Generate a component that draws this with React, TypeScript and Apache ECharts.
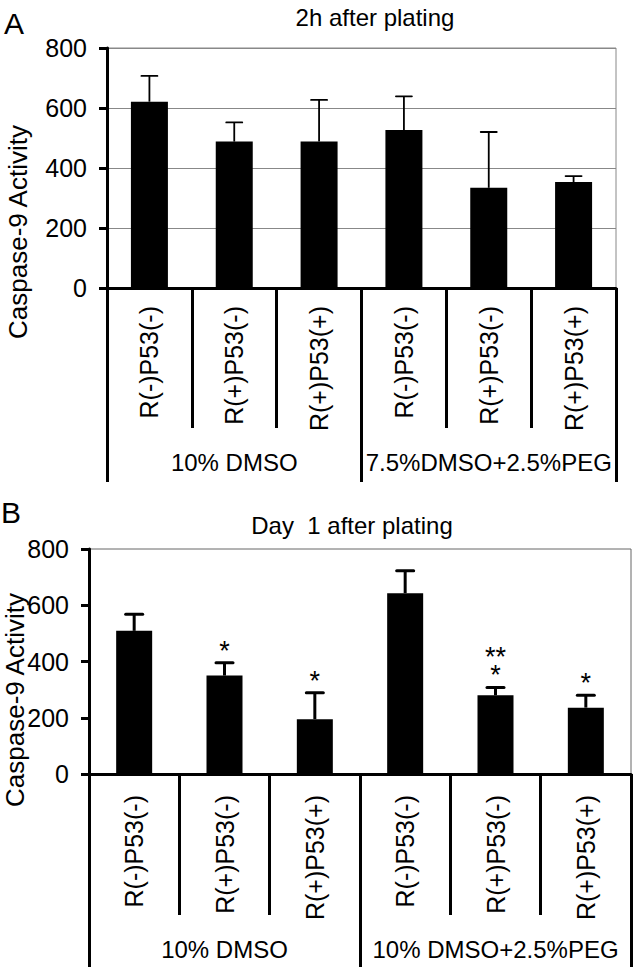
import React, { useEffect, useRef } from 'react';
import * as echarts from 'echarts';

const categories = ['R(-)P53(-)', 'R(+)P53(-)', 'R(+)P53(+)', 'R(-)P53(-)', 'R(+)P53(-)', 'R(+)P53(+)'];
const groupsA = ['10% DMSO', '7.5%DMSO+2.5%PEG'];
const groupsB = ['10% DMSO', '10% DMSO+2.5%PEG'];
const meanA = [621, 488, 488, 527, 334, 353];
const errA = [86, 64, 139, 112, 186, 20];
const meanB = [509, 350, 195, 643, 280, 236];
const errB = [59, 46, 94, 80, 28, 44];
const sigB = ['', '*', '*', '', '**\n*', '*'];
const titleA = '2h after plating';
const titleB = 'Day  1 after plating';
const yName = 'Caspase-9 Activity';
const yMin = 0;
const yMax = 800;
const yStep = 200;

const FONT = '"Liberation Sans", Arial, sans-serif';

function errorSeries(xi: number, yi: number, means: number[], errs: number[], lw: number, cap: number) {
  return {
    type: 'custom',
    xAxisIndex: xi,
    yAxisIndex: yi,
    z: 3,
    data: means.map((m, i) => [i, m, m + errs[i]]),
    renderItem: (params: any, api: any) => {
      const base = api.coord([api.value(0), api.value(1)]);
      const top = api.coord([api.value(0), api.value(2)]);
      return {
        type: 'group',
        children: [
          { type: 'line', shape: { x1: base[0], y1: base[1], x2: top[0], y2: top[1] }, style: { stroke: '#000', lineWidth: lw } },
          { type: 'line', shape: { x1: top[0] - cap / 2, y1: top[1], x2: top[0] + cap / 2, y2: top[1] }, style: { stroke: '#000', lineWidth: lw, lineCap: 'round' } },
        ],
      };
    },
  };
}

export default function App() {
  const ref = useRef<HTMLDivElement>(null);
  useEffect(() => {
    document.body.style.margin = '0';
    if (!ref.current) return;
    const chart = echarts.init(ref.current, null, { renderer: 'svg' });
    const catAxis = (gi: number, tickLen: number, labelMargin: number) => ({
      type: 'category',
      gridIndex: gi,
      data: categories,
      position: 'bottom',
      boundaryGap: true,
      axisLine: { show: true, lineStyle: { color: '#000', width: 3 } },
      axisTick: { show: true, interval: 0, length: tickLen, lineStyle: { color: '#000', width: 3 } },
      axisLabel: { interval: 0, rotate: 90, margin: labelMargin, color: '#000', fontSize: 25, fontFamily: FONT },
    });
    const groupAxis = (gi: number, groups: string[], tickLen: number, labelMargin: number) => ({
      type: 'category',
      gridIndex: gi,
      data: groups,
      position: 'bottom',
      offset: 0,
      boundaryGap: true,
      axisLine: { show: false },
      axisTick: { show: true, interval: 0, length: tickLen, lineStyle: { color: '#000', width: 3 } },
      axisLabel: { interval: 0, margin: labelMargin, color: '#000', fontSize: 24, fontFamily: FONT },
    });
    const valAxis = (gi: number, split: boolean) => ({
      type: 'value',
      gridIndex: gi,
      min: yMin,
      max: yMax,
      interval: yStep,
      axisLine: { show: true, lineStyle: { color: '#000', width: 3 } },
      axisTick: { show: true, length: 8, lineStyle: { color: '#000', width: 3 } },
      axisLabel: { margin: 20, color: '#000', fontSize: 25, fontFamily: FONT },
      splitLine: { show: split, lineStyle: { color: '#888', width: 1 } },
    });
    const sigSeries = {
      type: 'custom',
      xAxisIndex: 2,
      yAxisIndex: 1,
      z: 4,
      data: meanB.map((m, i) => [i, m + errB[i]]),
      renderItem: (params: any, api: any) => {
        const p = api.coord([api.value(0), api.value(1)]);
        const t = sigB[params.dataIndex];
        if (!t) return { type: 'group', children: [] };
        return {
          type: 'text',
          x: p[0],
          y: p[1] - 3,
          style: { text: t, fontSize: 27, lineHeight: 18, fontFamily: FONT, fill: '#000', align: 'center', verticalAlign: 'bottom', textAlign: 'center', textVerticalAlign: 'bottom' },
        };
      },
    };
    chart.setOption({
      animation: false,
      backgroundColor: '#fff',
      title: [
        { text: titleA, left: 370, top: 0, textAlign: 'center', textStyle: { fontSize: 24, fontWeight: 'normal', color: '#000', fontFamily: FONT } },
        { text: titleB, left: 347, top: 508, textAlign: 'center', textStyle: { fontSize: 24, fontWeight: 'normal', color: '#000', fontFamily: FONT } },
      ],
      grid: [
        { left: 107, top: 48, width: 509, height: 240, show: true, borderColor: '#888', borderWidth: 1, backgroundColor: 'transparent' },
        { left: 89, top: 549, width: 542, height: 225, show: true, borderColor: '#666', borderWidth: 1, backgroundColor: 'transparent' },
      ],
      xAxis: [
        catAxis(0, 140, 18),
        groupAxis(0, groupsA, 194, 162),
        catAxis(1, 141, 21),
        groupAxis(1, groupsB, 193, 163),
      ],
      yAxis: [valAxis(0, true), valAxis(1, false)],
      graphic: [
        { type: 'text', x: 4, y: 8, style: { text: 'A', fontSize: 30, fontFamily: FONT, fill: '#000' } },
        { type: 'text', x: 1, y: 497, style: { text: 'B', fontSize: 30, fontFamily: FONT, fill: '#000' } },
        { type: 'text', x: 18, y: 232, rotation: Math.PI / 2, style: { text: yName, fontSize: 26, fontFamily: FONT, fill: '#000', align: 'center', verticalAlign: 'middle', textAlign: 'center', textVerticalAlign: 'middle' } },
        { type: 'text', x: 15, y: 700, rotation: Math.PI / 2, style: { text: yName, fontSize: 26, fontFamily: FONT, fill: '#000', align: 'center', verticalAlign: 'middle', textAlign: 'center', textVerticalAlign: 'middle' } },
      ],
      series: [
        { type: 'bar', xAxisIndex: 0, yAxisIndex: 0, data: meanA, barWidth: 37, itemStyle: { color: '#000' }, z: 2 },
        errorSeries(0, 0, meanA, errA, 1.8, 16),
        { type: 'bar', xAxisIndex: 2, yAxisIndex: 1, data: meanB, barWidth: 36, itemStyle: { color: '#000' }, z: 2 },
        errorSeries(2, 1, meanB, errB, 3, 17),
        sigSeries,
      ],
    });
    return () => chart.dispose();
  }, []);
  return <div ref={ref} style={{ width: 633, height: 968 }} />;
}
